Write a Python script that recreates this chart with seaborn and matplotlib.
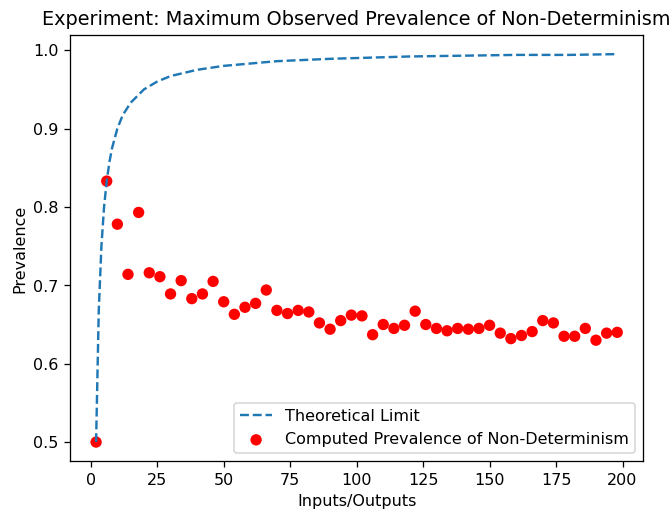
import matplotlib
matplotlib.use("Agg")
import matplotlib.pyplot as plt
import seaborn as sns
import pandas as pd

# Theoretical limit curve
limit_x = [2, 3, 4, 5, 6, 7, 8, 10, 12, 15, 20, 25, 30, 40, 50, 60, 70, 80, 90,
           100, 120, 140, 160, 180, 198]
limit_y = [0.5, 0.667, 0.75, 0.8, 0.833, 0.857, 0.875, 0.9, 0.917, 0.933, 0.95,
           0.96, 0.967, 0.975, 0.98, 0.983, 0.986, 0.9875, 0.989, 0.99, 0.992,
           0.993, 0.994, 0.994, 0.995]

# Computed prevalence points
obs_x = list(range(2, 199, 4))
obs_y = [0.500, 0.833, 0.778, 0.714, 0.793, 0.716, 0.711, 0.689, 0.706, 0.683,
         0.689, 0.705, 0.679, 0.663, 0.672, 0.677, 0.694, 0.668, 0.664, 0.668,
         0.666, 0.652, 0.644, 0.655, 0.662, 0.661, 0.637, 0.650, 0.645, 0.649,
         0.667, 0.650, 0.645, 0.642, 0.645, 0.644, 0.645, 0.649, 0.639, 0.632,
         0.636, 0.641, 0.655, 0.652, 0.635, 0.635, 0.645, 0.630, 0.639, 0.640]

df_lim = pd.DataFrame({"x": limit_x, "y": limit_y})
df_obs = pd.DataFrame({"x": obs_x, "y": obs_y})

DPI = 115.5
fig = plt.figure(figsize=(672.3 / DPI, 514.3 / DPI), dpi=DPI)
ax = fig.add_axes([70 / 672, 1 - 461.5 / 514, 573 / 672, 426.5 / 514])

sns.lineplot(data=df_lim, x="x", y="y", ax=ax, linestyle="--", color="#1f77b4",
             label="Theoretical Limit")
sns.scatterplot(data=df_obs, x="x", y="y", ax=ax, color="red", s=50,
                edgecolor="none", label="Computed Prevalence of Non-Determinism")

ax.set_xticks([0, 25, 50, 75, 100, 125, 150, 175, 200])
ax.set_yticks([0.5, 0.6, 0.7, 0.8, 0.9, 1.0])
ax.set_xlabel("Inputs/Outputs")
ax.set_ylabel("Prevalence")
ax.set_title("Experiment: Maximum Observed Prevalence of Non-Determinism")
ax.legend(loc="lower right")

fig.savefig("out.png", dpi=DPI)
